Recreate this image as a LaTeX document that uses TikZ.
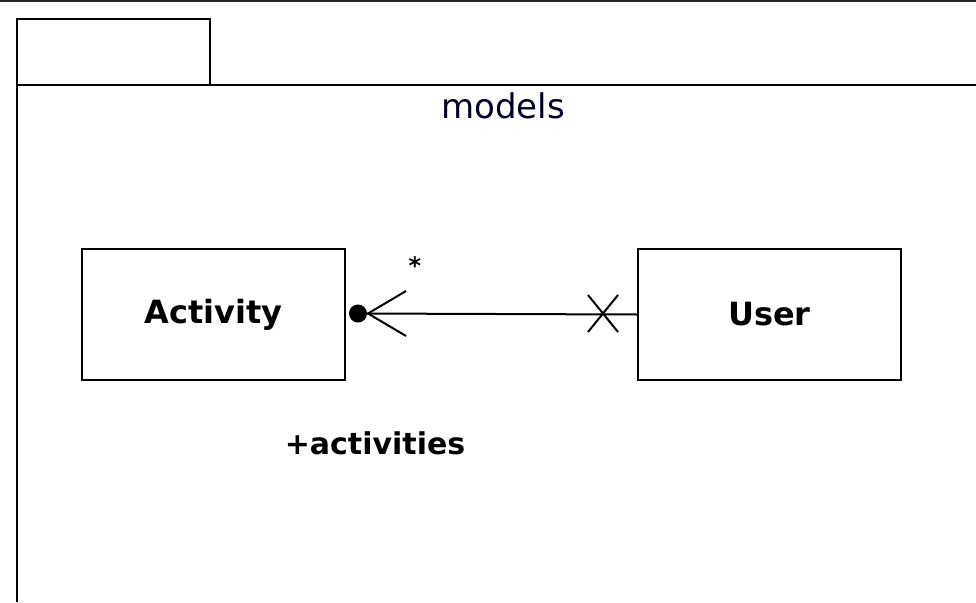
\documentclass[tikz,border=0pt]{standalone}
\usepackage{fontspec}
\setmainfont{DejaVu Sans}
\begin{document}
\begin{tikzpicture}[x=1pt,y=-1pt,
  umlline/.style={line width=2pt,draw=black},
  classbox/.style={draw=black,line width=2pt,minimum width=263pt,minimum height=131pt,inner sep=0pt,font=\fontsize{32}{38}\selectfont\bfseries},
  lbl/.style={inner sep=0pt,font=\fontsize{29}{34}\selectfont}]
\useasboundingbox (0,0) rectangle (976,602);
\fill[white] (0,0) rectangle (976,602);
% top border
\draw[line width=2pt,draw=black!85] (0,1) -- (976,1);
% package frame
\draw[umlline] (17,85) rectangle (210,19);
\draw[umlline] (17,602) -- (17,85) -- (976,85);
\node[lbl,font=\fontsize{34}{40}\selectfont,text=black!85!blue] (pkg) at (503,106) {models};
% classes
\node[classbox,anchor=north west] (activity) at (81,248) {Activity};
\node[classbox,anchor=north west] (user) at (637,248) {User};
% association
\node[circle,fill=black,inner sep=0pt,minimum size=18pt] (dot) at (358,313.5) {};
\coordinate (cf) at (368,313.5);
\coordinate (cfa) at (406,291);
\coordinate (cfb) at (406,336);
\draw[umlline] (dot) -- (user.west);
\draw[umlline] (cf) -- (cfa);
\draw[umlline] (cf) -- (cfb);
\coordinate (x1) at (588,295);
\coordinate (x2) at (618,332);
\coordinate (x3) at (588,332);
\coordinate (x4) at (618,295);
\draw[umlline] (x1) -- (x2);
\draw[umlline] (x3) -- (x4);
\node[lbl,font=\fontsize{24}{28}\selectfont\bfseries] (mult) at (415,266) {*};
\node[lbl,font=\fontsize{30}{36}\selectfont\bfseries] (role) at (375,443) {+activities};
\end{tikzpicture}
\end{document}
